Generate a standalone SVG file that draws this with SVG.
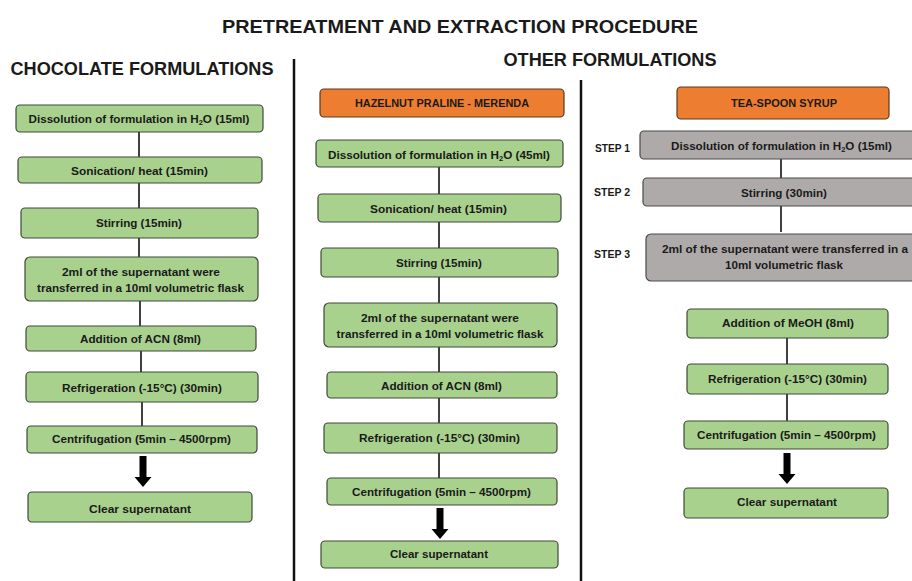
<svg xmlns="http://www.w3.org/2000/svg" width="912" height="581" viewBox="0 0 912 581">
<defs>
<style>
text{font-family:"Liberation Sans",Arial,sans-serif;font-weight:bold;fill:#1a1a1a;text-anchor:middle}
.t{font-size:11.6px}
.h{font-size:18.6px}
.o{font-size:10.6px}
.s{font-size:10.4px;text-anchor:start}
.g{fill:#A9D18E;stroke:#3f4a38;stroke-width:1.2}
.or{fill:#ED7D31;stroke:#5a3a20;stroke-width:1.2}
.gr{fill:#AEAAAA;stroke:#4a4a4a;stroke-width:1.2}
.c{stroke:#111;stroke-width:1.6;fill:none}
.sep{stroke:#111;stroke-width:2.5}
.sub{font-size:7.5px}
</style>
<path id="arr" d="M-3.5,0 H3.5 V21 H8.5 L0,31 L-8.5,21 H-3.5 Z" fill="#000"/>
</defs>
<rect width="912" height="581" fill="#fff"/>

<g id="titles">
<text class="h" x="460" y="33" textLength="476" lengthAdjust="spacingAndGlyphs">PRETREATMENT AND EXTRACTION PROCEDURE</text>
<text class="h" x="142" y="75" textLength="263" lengthAdjust="spacingAndGlyphs">CHOCOLATE FORMULATIONS</text>
<text class="h" x="610" y="66" textLength="213" lengthAdjust="spacingAndGlyphs">OTHER FORMULATIONS</text>
</g>

<g id="separators">
<line class="sep" x1="294" y1="59" x2="294" y2="581"/>
<line class="sep" x1="581" y1="80" x2="581" y2="581"/>
</g>

<g id="connectors">
<line class="c" x1="139" y1="132" x2="139" y2="157"/>
<line class="c" x1="139" y1="183" x2="139" y2="208"/>
<line class="c" x1="139" y1="238" x2="139" y2="257"/>
<line class="c" x1="140" y1="301" x2="140" y2="326"/>
<line class="c" x1="141" y1="351" x2="141" y2="372"/>
<line class="c" x1="142" y1="402" x2="142" y2="426"/>
<use href="#arr" x="143" y="456"/>
<line class="c" x1="439" y1="167" x2="439" y2="194"/>
<line class="c" x1="439" y1="222" x2="439" y2="248"/>
<line class="c" x1="439" y1="277" x2="439" y2="303"/>
<line class="c" x1="439" y1="347" x2="439" y2="372"/>
<line class="c" x1="439" y1="398" x2="439" y2="423"/>
<line class="c" x1="439" y1="453" x2="439" y2="478"/>
<use href="#arr" x="440" y="508"/>
<line class="c" x1="781" y1="159" x2="781" y2="178"/>
<line class="c" x1="781" y1="206" x2="781" y2="232"/>
<line class="c" x1="787" y1="338" x2="787" y2="364"/>
<line class="c" x1="787" y1="394" x2="787" y2="421"/>
<use href="#arr" x="787" y="453"/>
</g>

<!-- Column 1: chocolate -->
<g id="c1n1"><rect class="g" x="16" y="105" width="247" height="27" rx="4"/>
<text class="t" x="139" y="123" textLength="221" lengthAdjust="spacingAndGlyphs">Dissolution of formulation in H<tspan class="sub" dy="2">2</tspan><tspan dy="-2">O (15ml)</tspan></text></g>
<g id="c1n2"><rect class="g" x="18" y="157" width="244" height="26" rx="4"/>
<text class="t" x="139.5" y="175" textLength="137" lengthAdjust="spacingAndGlyphs">Sonication/ heat (15min)</text></g>
<g id="c1n3"><rect class="g" x="21" y="208" width="237" height="30" rx="4"/>
<text class="t" x="139" y="227" textLength="86" lengthAdjust="spacingAndGlyphs">Stirring (15min)</text></g>
<g id="c1n4"><rect class="g" x="25" y="257" width="233" height="44" rx="5"/>
<text class="t" x="141" y="276" textLength="158" lengthAdjust="spacingAndGlyphs">2ml of the supernatant were</text>
<text class="t" x="140.5" y="292" textLength="207" lengthAdjust="spacingAndGlyphs">transferred in a 10ml volumetric flask</text></g>
<g id="c1n5"><rect class="g" x="26" y="326" width="230" height="25" rx="4"/>
<text class="t" x="140.5" y="343" textLength="121" lengthAdjust="spacingAndGlyphs">Addition of ACN (8ml)</text></g>
<g id="c1n6"><rect class="g" x="26" y="372" width="232" height="30" rx="4"/>
<text class="t" x="142" y="392" textLength="160" lengthAdjust="spacingAndGlyphs">Refrigeration (-15°C) (30min)</text></g>
<g id="c1n7"><rect class="g" x="27" y="426" width="230" height="27" rx="4"/>
<text class="t" x="141.5" y="443" textLength="179" lengthAdjust="spacingAndGlyphs">Centrifugation (5min – 4500rpm)</text></g>
<g id="c1n8"><rect class="g" x="28" y="492" width="224" height="30" rx="4"/>
<text class="t" x="140" y="513" textLength="102" lengthAdjust="spacingAndGlyphs">Clear supernatant</text></g>

<!-- Column 2: hazelnut praline -->
<g id="c2h"><rect class="or" x="320" y="89" width="244" height="28" rx="4"/>
<text class="o" x="442" y="107" textLength="174" lengthAdjust="spacingAndGlyphs">HAZELNUT PRALINE - MERENDA</text></g>
<g id="c2n1"><rect class="g" x="316" y="140" width="247" height="27" rx="4"/>
<text class="t" x="439" y="159" textLength="222" lengthAdjust="spacingAndGlyphs">Dissolution of formulation in H<tspan class="sub" dy="2">2</tspan><tspan dy="-2">O (45ml)</tspan></text></g>
<g id="c2n2"><rect class="g" x="318" y="194" width="243" height="28" rx="4"/>
<text class="t" x="438.5" y="213" textLength="137" lengthAdjust="spacingAndGlyphs">Sonication/ heat (15min)</text></g>
<g id="c2n3"><rect class="g" x="321" y="248" width="237" height="29" rx="4"/>
<text class="t" x="439" y="267" textLength="86" lengthAdjust="spacingAndGlyphs">Stirring (15min)</text></g>
<g id="c2n4"><rect class="g" x="324" y="303" width="233" height="44" rx="5"/>
<text class="t" x="440" y="322" textLength="158" lengthAdjust="spacingAndGlyphs">2ml of the supernatant were</text>
<text class="t" x="440" y="338" textLength="207" lengthAdjust="spacingAndGlyphs">transferred in a 10ml volumetric flask</text></g>
<g id="c2n5"><rect class="g" x="327" y="372" width="230" height="26" rx="4"/>
<text class="t" x="441.5" y="390" textLength="121" lengthAdjust="spacingAndGlyphs">Addition of ACN (8ml)</text></g>
<g id="c2n6"><rect class="g" x="324" y="423" width="233" height="30" rx="4"/>
<text class="t" x="439.5" y="442" textLength="161" lengthAdjust="spacingAndGlyphs">Refrigeration (-15°C) (30min)</text></g>
<g id="c2n7"><rect class="g" x="327" y="478" width="230" height="27" rx="4"/>
<text class="t" x="441.5" y="496" textLength="179" lengthAdjust="spacingAndGlyphs">Centrifugation (5min – 4500rpm)</text></g>
<g id="c2n8"><rect class="g" x="321" y="541" width="237" height="27" rx="4"/>
<text class="t" x="439" y="558" textLength="98" lengthAdjust="spacingAndGlyphs">Clear supernatant</text></g>

<!-- Column 3: tea-spoon syrup -->
<g id="c3h"><rect class="or" x="677" y="87" width="212" height="32" rx="4"/>
<text class="o" x="784" y="107" textLength="106" lengthAdjust="spacingAndGlyphs">TEA-SPOON SYRUP</text></g>
<g id="steps">
<text class="s" x="595" y="152" textLength="35" lengthAdjust="spacingAndGlyphs">STEP 1</text>
<text class="s" x="594" y="196" textLength="36" lengthAdjust="spacingAndGlyphs">STEP 2</text>
<text class="s" x="594" y="258" textLength="36" lengthAdjust="spacingAndGlyphs">STEP 3</text>
</g>
<g id="c3s1"><rect class="gr" x="640" y="131" width="284" height="28" rx="4"/>
<text class="t" x="781.5" y="150" textLength="221" lengthAdjust="spacingAndGlyphs">Dissolution of formulation in H<tspan class="sub" dy="2">2</tspan><tspan dy="-2">O (15ml)</tspan></text></g>
<g id="c3s2"><rect class="gr" x="643" y="178" width="284" height="28" rx="4"/>
<text class="t" x="784" y="197" textLength="86" lengthAdjust="spacingAndGlyphs">Stirring (30min)</text></g>
<g id="c3s3"><rect class="gr" x="646" y="234" width="284" height="47" rx="5"/>
<text class="t" x="785" y="253" textLength="246" lengthAdjust="spacingAndGlyphs">2ml of the supernatant were transferred in a</text>
<text class="t" x="784" y="269" textLength="118" lengthAdjust="spacingAndGlyphs">10ml volumetric flask</text></g>
<g id="c3n1"><rect class="g" x="687" y="309" width="201" height="29" rx="4"/>
<text class="t" x="788" y="327" textLength="132" lengthAdjust="spacingAndGlyphs">Addition of MeOH (8ml)</text></g>
<g id="c3n2"><rect class="g" x="687" y="364" width="201" height="30" rx="4"/>
<text class="t" x="787.5" y="383" textLength="159" lengthAdjust="spacingAndGlyphs">Refrigeration (-15°C) (30min)</text></g>
<g id="c3n3"><rect class="g" x="684" y="421" width="204" height="28" rx="4"/>
<text class="t" x="786.5" y="439" textLength="179" lengthAdjust="spacingAndGlyphs">Centrifugation (5min – 4500rpm)</text></g>
<g id="c3n4"><rect class="g" x="684" y="488" width="204" height="30" rx="4"/>
<text class="t" x="787" y="506" textLength="100" lengthAdjust="spacingAndGlyphs">Clear supernatant</text></g>
</svg>
